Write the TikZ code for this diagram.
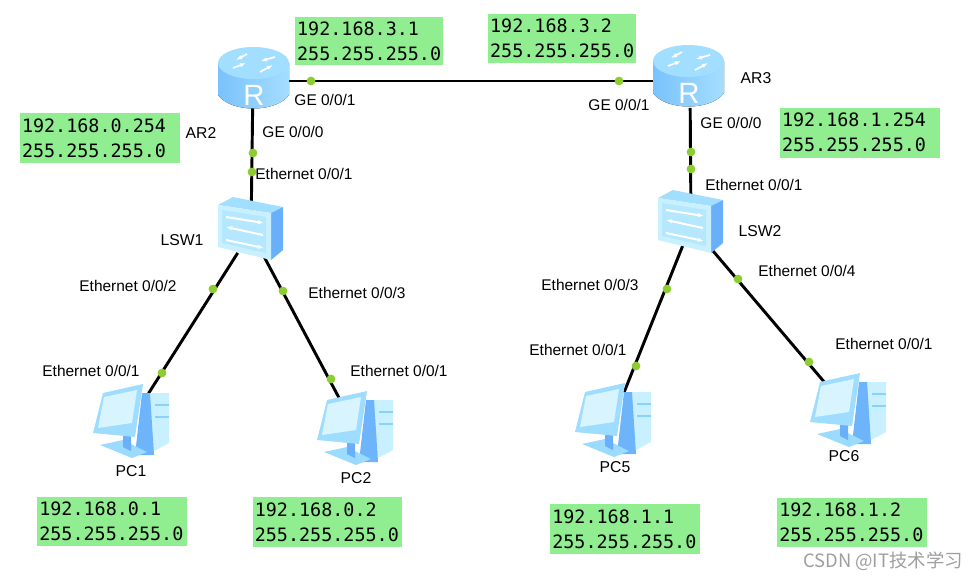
\documentclass[tikz,border=0pt]{standalone}
\usepackage{fontspec}
\usepackage{xcolor}
\usetikzlibrary{arrows.meta}
\setmainfont{Liberation Sans}
\newfontfamily\ipfont{DejaVu Sans Mono}
\newfontfamily\markfont{Noto Sans CJK SC}
\definecolor{ipgreen}{RGB}{144,238,144}
\definecolor{portgreen}{RGB}{142,205,50}
\definecolor{iconlight}{RGB}{200,240,255}
\definecolor{iconmid}{RGB}{135,210,255}
\definecolor{icondeep}{RGB}{105,175,250}

\tikzset{
  routerbox/.style={inner sep=0pt, minimum width=50pt, minimum height=40pt},
  switchbox/.style={inner sep=0pt, minimum width=40pt, minimum height=31pt},
  pcbox/.style={inner sep=0pt, minimum width=57pt, minimum height=41pt},
  link/.style={line width=2.2pt, black},
  port/.style={circle, fill=portgreen, inner sep=0pt, minimum size=6.6pt},
  portlabel/.style={font=\fontsize{11.6}{13}\selectfont, inner sep=0pt},
  devlabel/.style={font=\fontsize{11.8}{13}\selectfont, inner sep=0pt},
  ipbox/.style={fill=ipgreen, inner ysep=0pt, inner xsep=1.6pt, align=left, font=\ipfont\fontsize{13.8}{18.6}\selectfont},
  routericon/.pic={
    \fill[left color=icondeep!45!iconmid, right color=iconmid!75!white]
      (-35,-24) -- (-35,8) .. controls (-22,26) and (23,26) .. (36,8) -- (36,-24) -- cycle;
    \fill[iconmid!60!iconlight] (0.5,-24) ellipse[x radius=35.5, y radius=16];
    \draw[white, line width=1.3pt, -{Latex[length=4.5pt]}] (-6,-33) -- (-17,-27);
    \draw[white, line width=1.3pt, -{Latex[length=4.5pt]}] (-20,-19) -- (-7,-24);
    \draw[white, line width=1.3pt, -{Latex[length=4.5pt]}] (7,-15) -- (20,-22);
    \draw[white, line width=1.3pt, -{Latex[length=4.5pt]}] (22,-30) -- (8,-26);
    \node[text=white, inner sep=0pt, font=\fontsize{22}{22}\selectfont] (glyph) at (1,8) {R};
  },
  switchicon/.pic={
    \fill[iconmid!60!iconlight] (-33,-27) -- (-18,-35) -- (32,-25) -- (20,-19) -- cycle;
    \fill[icondeep] (20,-19) -- (32,-25) -- (32,18) -- (20,28) -- cycle;
    \fill[iconlight] (-33,-27) -- (20,-19) -- (20,28) -- (-33,15) -- cycle;
    \fill[iconlight!70!iconmid] (-29,-22) -- (15,-15) -- (15,21) -- (-29,11) -- cycle;
    \draw[white, line width=1.5pt, -{Latex[length=4.5pt]}] (-25,-15) -- (13,-9);
    \draw[white, line width=1.5pt, -{Latex[length=4.5pt]}] (12,3) -- (-25,-5);
    \draw[white, line width=1.5pt, -{Latex[length=4.5pt]}] (-25,8) -- (13,16);
  },
  pcicon/.pic={
    \fill[iconlight] (19,-28) -- (38,-28) -- (38,22) -- (16,34) -- cycle;
    \draw[iconmid, line width=0.8pt] (24,-16) -- (38,-16) (24,-4) -- (38,-4);
    \fill[icondeep!85!iconmid] (11,-28) -- (19,-28) -- (23,34) -- (4,34) -- cycle;
    \fill[iconmid!70!iconlight] (-31,24) -- (-8,19) -- (16,31) -- (1,37) -- cycle;
    \fill[icondeep] (-8,14) -- (0,14) -- (0,30) -- (-8,26) -- cycle;
    \fill[iconmid!65!iconlight] (-28,-28) -- (12,-37) -- (4,16) -- (-38,12) -- cycle;
    \fill[iconlight!70!white] (-27,-24) -- (6,-31) -- (1,2) -- (-33,7) -- cycle;
  }
}

\begin{document}
\begin{tikzpicture}[x=0.75pt, y=-0.75pt]
  \useasboundingbox (0,0) rectangle (967,579);

  % devices
  \node[routerbox] (AR2) at (253,81) {};
  \node[routerbox] (AR3) at (690,81) {};
  \node[switchbox] (LSW1) at (251,232) {};
  \node[switchbox] (LSW2) at (691,225) {};
  \node[pcbox] (PC1) at (131,421) {};
  \node[pcbox] (PC2) at (355,428) {};
  \node[pcbox] (PC5) at (613,420) {};
  \node[pcbox] (PC6) at (848,410) {};

  % links
  \draw[link] (AR2) -- (AR3);
  \draw[link] (AR2) -- (LSW1);
  \draw[link] (AR3) -- (LSW2);
  \draw[link] (LSW1) -- (PC1);
  \draw[link] (LSW1) -- (PC2);
  \draw[link] (LSW2) -- (PC5);
  \draw[link] (LSW2) -- (PC6);

  % icons
  \pic at ([yshift=-4.5pt]AR2.center) {routericon};
  \pic at ([xshift=-1.5pt,yshift=-3pt]AR3.center) {routericon};
  \pic at (LSW1.center) {switchicon};
  \pic at (LSW2.center) {switchicon};
  \pic at (PC1.center) {pcicon};
  \pic at (PC2.center) {pcicon};
  \pic at (PC5.center) {pcicon};
  \pic at (PC6.center) {pcicon};

  % port dots
  \foreach \name/\where in {p1/{311,81}, p2/{619,81}, p3/{253,153}, p4/{252,172},
      p5/{691,152}, p6/{691,169}, p7/{213,289}, p8/{162,373}, p9/{283,291},
      p10/{331,379}, p11/{667,289}, p12/{636,366}, p13/{738,279}, p14/{809,362}}
    \node[port] (\name) at (\where) {};

  % port labels
  \node[portlabel] (ge1) at (325,100) {GE 0/0/1};
  \node[portlabel] (ge2) at (293,132) {GE 0/0/0};
  \node[portlabel] (eth1) at (304,174) {Ethernet 0/0/1};
  \node[portlabel] (eth2) at (128,286) {Ethernet 0/0/2};
  \node[portlabel] (eth3) at (357,293) {Ethernet 0/0/3};
  \node[portlabel] (eth4) at (91,371) {Ethernet 0/0/1};
  \node[portlabel] (eth5) at (399,371) {Ethernet 0/0/1};
  \node[portlabel] (ge3) at (619,105) {GE 0/0/1};
  \node[portlabel] (ge4) at (731,123) {GE 0/0/0};
  \node[portlabel] (eth6) at (754,185) {Ethernet 0/0/1};
  \node[portlabel] (eth7) at (590,285) {Ethernet 0/0/3};
  \node[portlabel] (eth8) at (807,271) {Ethernet 0/0/4};
  \node[portlabel] (eth9) at (578,350) {Ethernet 0/0/1};
  \node[portlabel] (eth10) at (884,344) {Ethernet 0/0/1};

  % device labels
  \node[devlabel] (nameAR2) at (201,133) {AR2};
  \node[devlabel] (nameAR3) at (756,78) {AR3};
  \node[devlabel] (nameLSW1) at (182,240) {LSW1};
  \node[devlabel] (nameLSW2) at (760,231) {LSW2};
  \node[devlabel] (namePC1) at (131,471) {PC1};
  \node[devlabel] (namePC2) at (356,478) {PC2};
  \node[devlabel] (namePC5) at (615,467) {PC5};
  \node[devlabel] (namePC6) at (844,456) {PC6};

  % address boxes
  \node[ipbox, text width=107.8pt, minimum height=36.5pt] (ip1) at (369,41) {192.168.3.1\\255.255.255.0};
  \node[ipbox, text width=107.8pt, minimum height=36.5pt] (ip2) at (562,38.5) {192.168.3.2\\255.255.255.0};
  \node[ipbox, text width=117pt, minimum height=37.5pt] (ip3) at (100,138) {192.168.0.254\\255.255.255.0};
  \node[ipbox, text width=117pt, minimum height=37.5pt] (ip4) at (860,132.5) {192.168.1.254\\255.255.255.0};
  \node[ipbox, text width=109pt, minimum height=37pt] (ip5) at (112,521.5) {192.168.0.1\\255.255.255.0};
  \node[ipbox, text width=109pt, minimum height=37pt] (ip6) at (327.5,522) {192.168.0.2\\255.255.255.0};
  \node[ipbox, text width=109pt, minimum height=37pt] (ip7) at (625,529) {192.168.1.1\\255.255.255.0};
  \node[ipbox, text width=109pt, minimum height=37pt] (ip8) at (852,522.5) {192.168.1.2\\255.255.255.0};

  % watermark
  \node[inner sep=0pt, text=black!38, font=\markfont\fontsize{13.8}{14}\selectfont] (mark) at (883,561) {CSDN @IT技术学习};
\end{tikzpicture}
\end{document}
